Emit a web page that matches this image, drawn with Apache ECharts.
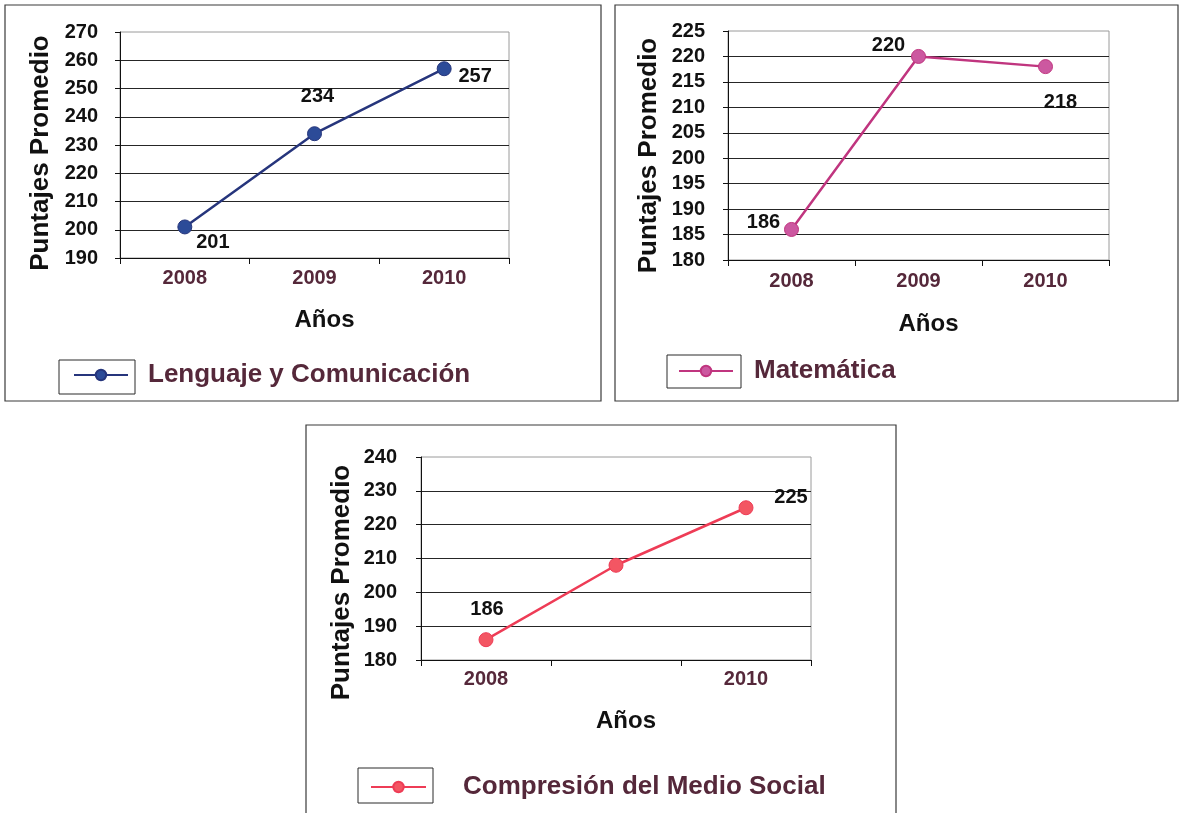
<!DOCTYPE html>
<html>
<head>
<meta charset="utf-8">
<script src="https://cdn.jsdelivr.net/npm/echarts@6/dist/echarts.min.js"></script>
<style>
  html, body { margin: 0; padding: 0; background: #ffffff; }
  #chart { width: 1183px; height: 813px; }
</style>
</head>
<body>
<div id="chart"></div>
<script>
// datos
const years = ["2008", "2009", "2010"];

const lenguajeName = "Lenguaje y Comunicación";
const lenguajeValues = [201, 234, 257];
const lenguajeTicks = [190, 200, 210, 220, 230, 240, 250, 260, 270];

const matematicaName = "Matemática";
const matematicaValues = [186, 220, 218];
const matematicaTicks = [180, 185, 190, 195, 200, 205, 210, 215, 220, 225];

const socialName = "Compresión del Medio Social";
const socialValues = [186, 208, 225];
const socialTicks = [180, 190, 200, 210, 220, 230, 240];
const socialShownYears = ["2008", "2010"];

// posición de cada etiqueta de valor respecto al punto (null = sin etiqueta)
const lenguajeLabelOffsets = [[28, 16], [3, -37], [31, 8]];
const matematicaLabelOffsets = [[-28, -7], [-30, -11], [15, 36]];
const socialLabelOffsets = [[1, -30], null, [45, -10]];

const FONT = '"Liberation Sans", Arial, Helvetica, sans-serif';
const LABEL_COLOR = "#55283a";

const panels = [
  {
    name: lenguajeName, values: lenguajeValues, ticks: lenguajeTicks, offsets: lenguajeLabelOffsets,
    shownYears: years,
    lineColor: "#26357c", markerColor: "#2c4b98",
    grid: { left: 120, top: 32, width: 389, height: 226 },
    yNameShift: 8, xNameGap: 50, yLabelMargin: 22, xLabelMargin: 10,
    legend: { left: 73, top: 361, itemWidth: 54, gap: 15 },
    box: [5, 5, 596, 396], legendBox: [59, 360, 76, 34]
  },
  {
    name: matematicaName, values: matematicaValues, ticks: matematicaTicks, offsets: matematicaLabelOffsets,
    shownYears: years,
    lineColor: "#c0357f", markerColor: "#cc58a0",
    grid: { left: 728, top: 31, width: 381, height: 229 },
    yNameShift: 10, xNameGap: 52, yLabelMargin: 23, xLabelMargin: 11,
    legend: { left: 678, top: 357, itemWidth: 54, gap: 16 },
    box: [615, 5, 563, 396], legendBox: [667, 355, 74, 33]
  },
  {
    name: socialName, values: socialValues, ticks: socialTicks, offsets: socialLabelOffsets,
    shownYears: socialShownYears,
    lineColor: "#ee3c56", markerColor: "#f35663",
    grid: { left: 421, top: 457, width: 390, height: 203 },
    yNameShift: 24, xNameGap: 49, yLabelMargin: 24, xLabelMargin: 9,
    legend: { left: 370, top: 773, itemWidth: 55, gap: 32 },
    box: [306, 425, 590, 400], legendBox: [358, 768, 75, 35]
  }
];

const chart = echarts.init(document.getElementById("chart"));

const option = {
  animation: false,
  backgroundColor: "#ffffff",
  textStyle: { fontFamily: FONT },
  grid: panels.map(p => ({
    left: p.grid.left, top: p.grid.top, width: p.grid.width, height: p.grid.height,
    show: true, borderColor: "#9a9a9a", borderWidth: 1, backgroundColor: "transparent"
  })),
  xAxis: panels.map((p, i) => ({
    gridIndex: i,
    type: "category",
    data: years,
    boundaryGap: true,
    name: "Años",
    nameLocation: "middle",
    nameGap: p.xNameGap,
    nameTextStyle: { fontFamily: FONT, fontSize: 24, fontWeight: "bold", color: "#111111", padding: [0, 0, 0, 20] },
    axisLine: { show: true, lineStyle: { color: "#111111", width: 1 } },
    axisTick: { show: true, interval: 0, alignWithLabel: false, length: 6, lineStyle: { color: "#111111" } },
    axisLabel: {
      margin: p.xLabelMargin, fontFamily: FONT, fontSize: 20, fontWeight: "bold", color: LABEL_COLOR,
      interval: 0,
      formatter: v => (p.shownYears.includes(v) ? v : "")
    },
    splitLine: { show: false }
  })),
  yAxis: panels.map((p, i) => ({
    gridIndex: i,
    type: "value",
    min: p.ticks[0],
    max: p.ticks[p.ticks.length - 1],
    interval: p.ticks[1] - p.ticks[0],
    name: "Puntajes Promedio",
    nameLocation: "middle",
    nameRotate: 90,
    nameGap: 66,
    nameTextStyle: {
      fontFamily: FONT, fontSize: 26, fontWeight: "bold", color: "#111111",
      padding: [0, p.yNameShift * 2, 0, 0]
    },
    axisLine: { show: true, lineStyle: { color: "#111111", width: 1 } },
    axisTick: { show: true, length: 5, lineStyle: { color: "#111111" } },
    axisLabel: { margin: p.yLabelMargin, fontFamily: FONT, fontSize: 20, fontWeight: "bold", color: "#111111" },
    splitLine: { show: true, showMaxLine: false, lineStyle: { color: "#262626", width: 1 } }
  })),
  legend: panels.map(p => ({
    data: [p.name],
    left: p.legend.left,
    top: p.legend.top,
    padding: 0,
    itemWidth: p.legend.itemWidth,
    itemHeight: 13,
    selectedMode: false,
    textStyle: {
      fontFamily: FONT, fontSize: 26, fontWeight: "bold", color: LABEL_COLOR,
      lineHeight: 28, padding: [0, 0, 0, p.legend.gap]
    }
  })),
  series: panels.map((p, i) => ({
    type: "line",
    name: p.name,
    xAxisIndex: i,
    yAxisIndex: i,
    symbol: "circle",
    symbolSize: 14,
    lineStyle: { color: p.lineColor, width: 2.5 },
    itemStyle: { color: p.markerColor, borderColor: p.lineColor, borderWidth: 1 },
    label: {
      show: true, position: "inside", fontFamily: FONT, fontSize: 20, fontWeight: "bold", color: "#111111"
    },
    emphasis: { disabled: true },
    data: p.values.map((v, k) => ({
      value: v,
      label: p.offsets[k] ? { show: true, offset: p.offsets[k] } : { show: false }
    }))
  })),
  graphic: panels.flatMap(p => [
    {
      type: "rect", silent: true, z: -1,
      shape: { x: p.box[0], y: p.box[1], width: p.box[2], height: p.box[3] },
      style: { fill: "none", stroke: "#3a3a3a", lineWidth: 1.2 }
    },
    {
      type: "rect", silent: true,
      shape: { x: p.legendBox[0], y: p.legendBox[1], width: p.legendBox[2], height: p.legendBox[3] },
      style: { fill: "none", stroke: "#2a2a2a", lineWidth: 1 }
    }
  ])
};

chart.setOption(option);
window.addEventListener("resize", () => chart.resize());
</script>
</body>
</html>
